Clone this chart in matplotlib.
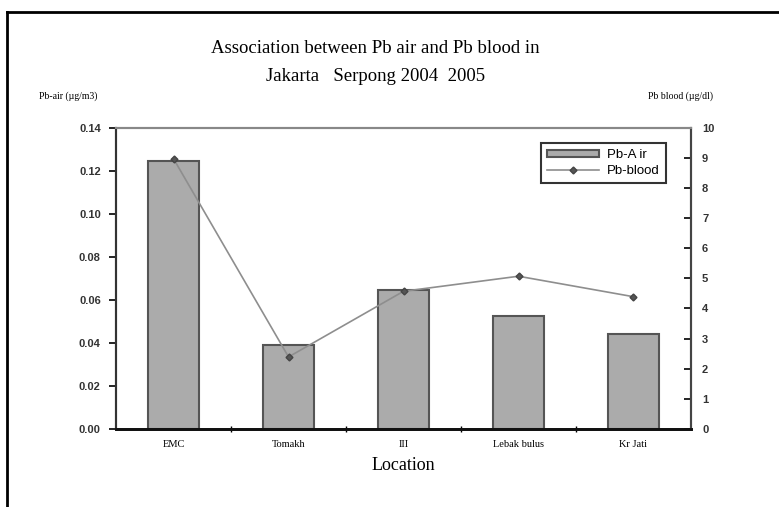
import numpy as np
import matplotlib.pyplot as plt
from matplotlib.lines import Line2D

locations = ['EMC', 'Tomakh', 'III', 'Lebak bulus', 'Kr Jati']
pb_air = [0.1245, 0.0392, 0.0648, 0.0524, 0.0443]
pb_blood = [8.97, 2.39, 4.57, 5.07, 4.39]

serif = 'Liberation Serif'
sans = 'Liberation Sans'

fig = plt.figure(figsize=(7.79, 5.07), dpi=100)
ax = fig.add_axes([0.149, 0.154, 0.738, 0.594])
ax2 = ax.twinx()

x = np.arange(len(locations))
bars = ax.bar(x, pb_air, width=0.44, color='#ababab', edgecolor='#555555',
              linewidth=1.5, label='Pb-A ir', zorder=2)
line, = ax2.plot(x, pb_blood, color='#8e8e8e', lw=1.2, marker='D', ms=3.5,
                 mfc='#555555', mec='#444444', label='Pb-blood', zorder=3)

ax.set_xlim(-0.5, len(locations) - 0.5)
ax.set_ylim(0, 0.14)
ax.set_yticks(np.arange(0, 0.141, 0.02))
ax.set_yticklabels(['%.2f' % v for v in np.arange(0, 0.141, 0.02)],
                   fontsize=8, family=sans, fontweight='bold', color='#333333')
ax2.set_ylim(0, 10)
ax2.set_yticks(range(0, 11))
ax2.set_yticklabels([str(i) for i in range(11)], fontsize=8, family=sans,
                    fontweight='bold', color='#333333')

ax.set_xticks(x)
ax.set_xticklabels(locations, fontsize=7.5, family=serif)
ax.set_xticks(np.arange(0.5, len(locations) - 0.5, 1), minor=True)
ax.tick_params(axis='x', which='major', length=0, pad=8)
ax.tick_params(axis='x', which='minor', length=5, width=1, direction='inout')
ax.tick_params(axis='y', length=5, width=1.2, direction='out', pad=6)
ax2.tick_params(axis='y', length=5, width=1.2, direction='in', pad=8)

for a in (ax, ax2):
    a.spines['top'].set_color('#888888')
    a.spines['top'].set_linewidth(1.5)
    a.spines['left'].set_color('#333333')
    a.spines['left'].set_linewidth(1.5)
    a.spines['right'].set_color('#444444')
    a.spines['right'].set_linewidth(1.5)
    a.spines['bottom'].set_color('#111111')
    a.spines['bottom'].set_linewidth(2)

ax.set_xlabel('Location', fontsize=13, family=serif, labelpad=6)

fig.text(0.482, 0.905, 'Association between Pb air and Pb blood in',
         ha='center', va='center', fontsize=13.5, family=serif)
fig.text(0.482, 0.85, 'Jakarta   Serpong 2004  2005',
         ha='center', va='center', fontsize=13.5, family=serif)
fig.text(0.05, 0.81, 'Pb-air (\u00b5g/m3)', ha='left', va='center',
         fontsize=7, family=serif)
fig.text(0.915, 0.81, 'Pb blood (\u00b5g/dl)', ha='right', va='center',
         fontsize=7, family=serif)

leg = ax2.legend([bars, line], ['Pb-A ir', 'Pb-blood'], loc='upper right',
                 bbox_to_anchor=(0.968, 0.97), prop={'family': sans, 'size': 9.5},
                 frameon=True, fancybox=False, edgecolor='black',
                 handlelength=4, handleheight=0.45, borderpad=0.45,
                 labelspacing=0.25, handletextpad=0.6)
leg.get_frame().set_linewidth(1.5)

# outer frame of the original figure
fig.add_artist(Line2D([0.009, 1.0], [0.976, 0.976], color='black', lw=2,
                      transform=fig.transFigure))
fig.add_artist(Line2D([0.009, 0.009], [0.0, 0.976], color='black', lw=2,
                      transform=fig.transFigure))

fig.savefig('out.png', dpi=100)
